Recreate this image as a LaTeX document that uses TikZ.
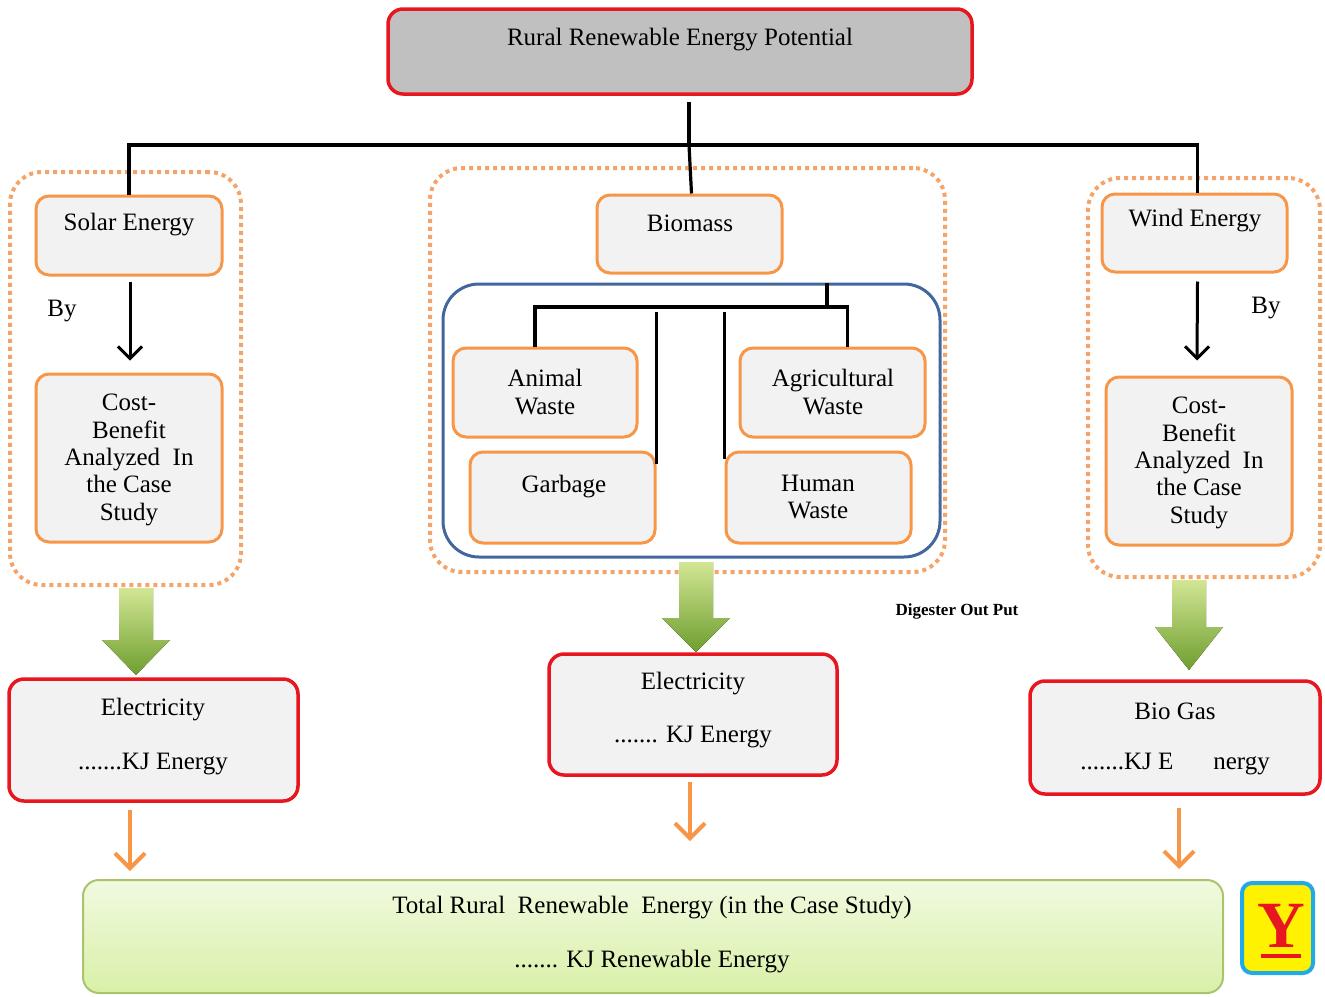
\documentclass[tikz,border=0pt]{standalone}
\usepackage{fontspec}
\setmainfont{Liberation Serif}
\usetikzlibrary{arrows.meta,calc}
\definecolor{redB}{HTML}{E8161E}
\definecolor{grayT}{HTML}{C0C0C0}
\definecolor{boxF}{HTML}{F2F2F2}
\definecolor{orB}{HTML}{F79646}
\definecolor{dotO}{HTML}{F4A468}
\definecolor{blueB}{HTML}{41679C}
\definecolor{grnB}{HTML}{A9C46C}
\definecolor{grnT}{HTML}{F0FADF}
\definecolor{grnBot}{HTML}{D9F0A8}
\definecolor{arrT}{HTML}{D2E694}
\definecolor{arrB}{HTML}{6E9E2E}
\definecolor{yB}{HTML}{22AAE8}
\newcommand{\mybox}[6]{\node[#1, minimum width={(#5-#3)*1pt}, minimum height={(#6-#4)*1pt}] (#2) at ({(#3+#5)/2},{(#4+#6)/2}) {};}
\newcommand{\greenarrow}[4]{\fill[garrow] (#1-17,#2) -- (#1+17,#2) -- (#1+17,#3) -- (#1+34,#3) -- (#1,#4) -- (#1-34,#3) -- (#1-17,#3) -- cycle;}
\tikzset{
  obox/.style={draw=orB, line width=3pt, fill=boxF, rounded corners=13pt, inner sep=0pt},
  rbox/.style={draw=redB, line width=3.5pt, fill=boxF, rounded corners=15pt, inner sep=0pt},
  dgrp/.style={draw=dotO, line width=4pt, dash pattern=on 4pt off 4pt, rounded corners=32pt, inner sep=0pt},
  txt/.style={font=\fontsize{25}{27.3}\selectfont, inner sep=0pt, align=center},
  tree/.style={draw=black, line width=3.2pt},
  barrow/.style={draw=black, line width=3pt, -{Straight Barb[length=12pt,width=24pt,line width=3pt]}},
  oarrow/.style={draw=orB, line width=4pt, -{Straight Barb[length=15pt,width=30pt,line width=4pt]}},
  garrow/.style={top color=arrT, bottom color=arrB, shading angle=0},
}
\begin{document}
\begin{tikzpicture}[x=1pt,y=-1pt]
\useasboundingbox (0,0) rectangle (1325,996);
% top
\mybox{rbox, fill=grayT}{top}{388}{9}{972}{94}
\node[txt] (toptxt) at (680,40) {Rural Renewable Energy Potential};
% groups
\mybox{dgrp}{sgrp}{10}{172}{241}{585}
\mybox{dgrp}{bgrp}{430}{168}{945}{572}
\mybox{dgrp}{wgrp}{1088}{178}{1320}{577}
% solar
\mybox{obox}{solar}{36}{196}{222}{275}
\node[txt] (solartxt) at (129,225) {Solar Energy};
\node[txt] (by1) at (62,311) {By};
\mybox{obox}{cost1}{36}{374}{222}{542}
\node[txt] (cost1txt) at (129,460) {Cost-\\Benefit\\Analyzed~ In\\the Case\\Study};
% wind
\mybox{obox}{wind}{1102}{194}{1287}{272}
\node[txt] (windtxt) at (1195,221) {Wind Energy};
\node[txt] (by2) at (1266,308) {By};
\mybox{obox}{cost2}{1106}{377}{1292}{545}
\node[txt] (cost2txt) at (1199,463) {Cost-\\Benefit\\Analyzed~ In\\the Case\\Study};
% biomass
\mybox{obox}{bio}{597}{195}{782}{273}
\node[txt] (biotxt) at (690,223) {Biomass};
\mybox{draw=blueB, line width=3pt, rounded corners=36pt, inner sep=0pt}{blue}{443}{284}{940}{557}
\mybox{obox}{animal}{453}{348}{637}{437}
\node[txt] (animaltxt) at (545,392) {Animal\\Waste};
\mybox{obox}{agri}{740}{348}{925}{437}
\node[txt] (agritxt) at (833,392) {Agricultural\\Waste};
\mybox{obox}{garb}{470}{452}{655}{543}
\node[txt] (garbtxt) at (564,487) {Garbage};
\mybox{obox}{human}{726}{452}{911}{543}
\node[txt] (humantxt) at (818,497) {Human\\Waste};
% tree lines
\coordinate (hb) at (689,145);
\draw[tree] ([yshift=-6pt]top.south -| hb) -- (hb);
\draw[tree] (solar.north) |- (hb) -| ([xshift=3pt]wind.north);
\draw[tree] (hb) -- ([xshift=2pt]bio.north);
\coordinate (ih) at (827,307);
\draw[tree] (blue.north -| ih) -- (ih);
\draw[tree] ([xshift=-10pt]animal.north) |- (ih) -| ([xshift=15pt]agri.north);
\draw[tree] ([yshift=-13pt]garb.north east) -- ([yshift=139pt]garb.north east);
\draw[tree] ([yshift=-8pt]human.north west) -- ([yshift=139pt]human.north west);
% black arrows
\draw[barrow] ([xshift=1pt,yshift=-5pt]solar.south) -- ([xshift=1pt,yshift=12pt]cost1.north);
\draw[barrow] ([xshift=3pt,yshift=-8pt]wind.south) -- ([xshift=-2pt,yshift=15pt]cost2.north);
% outputs
\mybox{rbox}{elec1}{9}{679}{298}{801}
\node[txt] (elec1a) at (153,710) {Electricity};
\node[txt] (elec1b) at (153,764) {.......KJ Energy};
\mybox{rbox}{elec2}{549}{654}{837}{775}
\node[txt] (elec2a) at (693,684) {Electricity};
\node[txt] (elec2b) at (693,737) {....... KJ Energy};
\mybox{rbox}{biogas}{1030}{681}{1320}{794}
\node[txt] (biogasa) at (1175,711) {Bio Gas};
\node[txt] (biogasb) at (1175,764) {.......KJ E\hspace{40pt}nergy};
\node[font=\fontsize{17}{19}\selectfont\bfseries, inner sep=0pt] (dig) at (957,611) {Digester Out Put};
% green arrows
\greenarrow{136}{588}{640}{675}
\greenarrow{696}{562}{618}{652}
\greenarrow{1189}{580}{627}{670}
% total
\mybox{draw=grnB, line width=2pt, top color=grnT, bottom color=grnBot, rounded corners=16pt, inner sep=0pt}{total}{83}{880}{1223}{993}
\node[txt] (totala) at (652,908) {Total Rural~ Renewable~ Energy (in the Case Study)};
\node[txt] (totalb) at (652,962) {....... KJ Renewable Energy};
% orange arrows
\coordinate (ox1) at (130,0);
\coordinate (ox2) at (690,0);
\coordinate (ox3) at (1179,0);
\draw[oarrow] ([yshift=-7pt]elec1.south -| ox1) -- ([yshift=8pt]total.north -| ox1);
\draw[oarrow] ([yshift=-5pt]elec2.south -| ox2) -- ([yshift=38pt]total.north -| ox2);
\draw[oarrow] ([yshift=-12pt]biogas.south -| ox3) -- ([yshift=10pt]total.north -| ox3);
% Y box
\mybox{draw=yB, line width=4pt, fill=yellow, rounded corners=10pt, inner sep=0pt}{ybox}{1242}{883}{1313}{973}
\node[font=\fontsize{66}{66}\selectfont\bfseries, text=redB, inner sep=0pt] (ytxt) at (1281,926) {Y};
\draw[draw=redB, line width=4pt] (1261,956) -- (1301,956);
\end{tikzpicture}
\end{document}
